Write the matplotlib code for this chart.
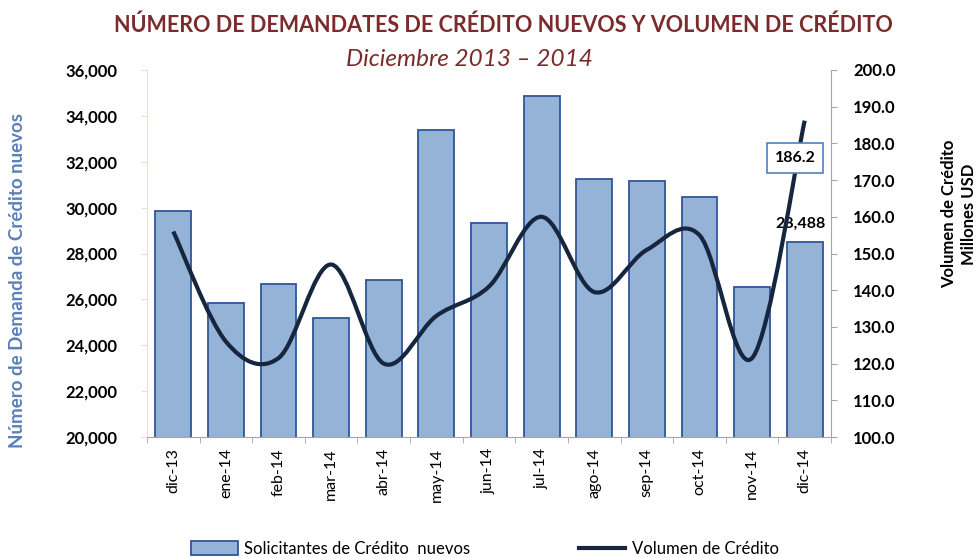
import matplotlib
matplotlib.use("Agg")
import matplotlib.pyplot as plt
import numpy as np
from matplotlib.path import Path
from matplotlib.patches import PathPatch, Patch
from matplotlib.lines import Line2D
from matplotlib.ticker import FuncFormatter

plt.rcParams['font.family'] = ['Lato', 'DejaVu Sans']

months = ['dic-13', 'ene-14', 'feb-14', 'mar-14', 'abr-14', 'may-14', 'jun-14',
          'jul-14', 'ago-14', 'sep-14', 'oct-14', 'nov-14', 'dic-14']
solicitantes = [29870, 25850, 26650, 25200, 26850, 33400, 29350,
                34850, 31250, 31170, 30450, 26550, 28488]
volumen = [156.0, 126.0, 121.5, 147.0, 120.0, 133.0, 141.0,
           160.0, 139.5, 151.0, 155.0, 121.5, 186.2]

title = 'NÚMERO DE DEMANDATES DE CRÉDITO NUEVOS Y VOLUMEN DE CRÉDITO'
subtitle = 'Diciembre 2013 – 2014'
ylabel_left = 'Número de Demanda de Crédito nuevos'
ylabel_right = 'Volumen de Crédito\nMillones USD'
legend_bar = 'Solicitantes de Crédito  nuevos'
legend_line = 'Volumen de Crédito'

W, H = 979, 558
fig = plt.figure(figsize=(W / 100, H / 100), dpi=100)
ax = fig.add_axes([147 / W, 1 - 437 / H, (831 - 147) / W, (437 - 70) / H])

x = np.arange(len(months))
bar_face = '#95B3D7'
bar_edge = '#2F5597'
ax.bar(x, solicitantes, width=0.68, color=bar_face, edgecolor=bar_edge, linewidth=1.3, zorder=2)
ax.set_xlim(-0.5, len(months) - 0.5)
ax.set_ylim(20000, 36000)
ax.set_yticks(np.arange(20000, 36001, 2000))
ax.yaxis.set_major_formatter(FuncFormatter(lambda v, p: f'{int(v):,}'))
ax.set_xticks(x)
ax.set_xticklabels(months, rotation=90, fontsize=11.5)
ax.set_xticks(np.arange(-0.5, len(months), 1), minor=True)
ax.tick_params(axis='x', which='major', length=0, pad=8)
ax.tick_params(axis='x', which='minor', length=4, color='#A6A6A6', direction='out')
ax.tick_params(axis='y', length=4, color='#E6E2D6', labelsize=12, pad=17)
for lab in ax.get_yticklabels():
    lab.set_fontweight('bold')
ax.spines['top'].set_visible(False)
ax.spines['right'].set_visible(False)
ax.spines['left'].set_color('#E6E2D6')
ax.spines['bottom'].set_color('#A6A6A6')

ax2 = ax.twinx()
ax2.set_ylim(100, 200)
ax2.set_yticks(np.arange(100, 200.1, 10))
ax2.yaxis.set_major_formatter(FuncFormatter(lambda v, p: f'{v:.1f}'))
ax2.tick_params(axis='y', length=4, color='#A6A6A6', labelsize=12, pad=12)
for lab in ax2.get_yticklabels():
    lab.set_fontweight('bold')
for s in ['top', 'left', 'bottom']:
    ax2.spines[s].set_visible(False)
ax2.spines['right'].set_color('#A6A6A6')

# smoothed line (Catmull-Rom style Bezier through the data points)
line_color = '#17263F'
xs = list(x)
ys = list(volumen)
n = len(xs)
verts = [(xs[0], ys[0])]
codes = [Path.MOVETO]
for i in range(n - 1):
    x0, y0 = (xs[i - 1], ys[i - 1]) if i > 0 else (xs[i], ys[i])
    x1, y1 = xs[i], ys[i]
    x2, y2 = xs[i + 1], ys[i + 1]
    x3, y3 = (xs[i + 2], ys[i + 2]) if i + 2 < n else (xs[i + 1], ys[i + 1])
    c1 = (x1 + (x2 - x0) / 6, y1 + (y2 - y0) / 6)
    c2 = (x2 - (x3 - x1) / 6, y2 - (y3 - y1) / 6)
    verts += [c1, c2, (x2, y2)]
    codes += [Path.CURVE4] * 3
ax2.add_patch(PathPatch(Path(verts, codes), facecolor='none', edgecolor=line_color,
                        linewidth=3.0, capstyle='butt', zorder=3))

# annotations
ax2.annotate(f'{volumen[-1]:.1f}', xy=(x[-1], volumen[-1]), xytext=(795, H - 158),
             textcoords='figure pixels', ha='center', va='center', fontsize=11.5,
             fontweight='bold',
             bbox=dict(boxstyle='square,pad=0.5', facecolor='white', edgecolor='#4F81BD', linewidth=1.2),
             zorder=5)
ax.annotate(f'{solicitantes[-1]:,}', xy=(x[-1], solicitantes[-1]), xytext=(800, H - 224),
            textcoords='figure pixels', ha='center', va='center', fontsize=11.5,
            fontweight='bold', zorder=5)

# titles
fig.text(503 / W, 1 - 25 / H, title, ha='center', va='center', fontsize=15.5,
         fontweight='bold', color='#7B2B2B')
fig.text(469 / W, 1 - 60 / H, subtitle, ha='center', va='center', fontsize=17.5,
         style='italic', color='#7B2B2B')

fig.text(18 / W, 1 - 280 / H, ylabel_left, rotation=90, ha='center', va='center',
         fontsize=13.5, fontweight='bold', color='#5B80B8')
fig.text(959 / W, 1 - 214 / H, ylabel_right, rotation=90, ha='center', va='center',
         fontsize=12, fontweight='bold', color='black', linespacing=1.25, multialignment='center')

handles = [Patch(facecolor=bar_face, edgecolor=bar_edge, linewidth=1.3),
           Line2D([0], [0], color=line_color, linewidth=3.0)]
fig.legend(handles, [legend_bar, legend_line], loc='center', bbox_to_anchor=(485 / W, 1 - 549 / H),
           ncol=2, frameon=False, fontsize=12, columnspacing=6.5, handlelength=2.8,
           handleheight=0.9, handletextpad=0.4)

fig.savefig('out.png', dpi=100)
